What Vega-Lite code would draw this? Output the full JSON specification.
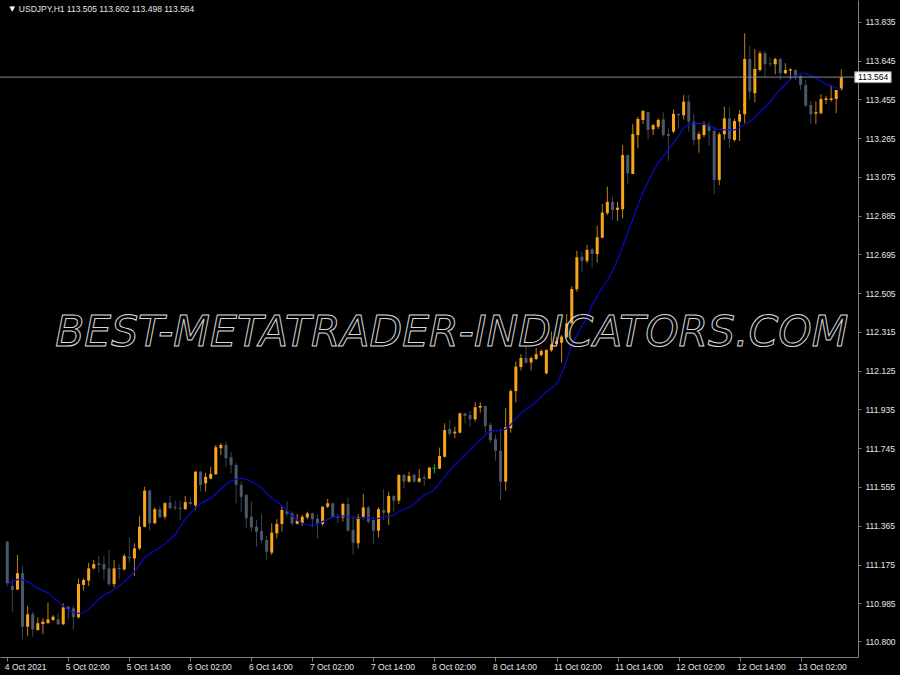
{
"$schema": "https://vega.github.io/schema/vega-lite/v6.json",
"width": 858, "height": 657, "padding": {"left": 0, "top": 0, "right": 42, "bottom": 18}, "autosize": {"type": "none"},
"background": "#000000",
"config": {"view": {"stroke": null},
 "axis": {"grid": false, "domainColor": "#808080", "tickColor": "#808080", "labelColor": "#E6E6E6", "labelFont": "Liberation Sans", "labelFontSize": 8.5, "title": null}},
"data": {"values": [
{"i":0,"o":111.287,"h":111.29,"l":111.07,"c":111.083,"m":111.079},
{"i":1,"o":111.07,"h":111.099,"l":110.944,"c":111.05,"m":111.091},
{"i":2,"o":111.053,"h":111.222,"l":111.05,"c":111.132,"m":111.102},
{"i":3,"o":111.132,"h":111.168,"l":110.808,"c":110.87,"m":111.1},
{"i":4,"o":110.87,"h":110.972,"l":110.825,"c":110.931,"m":111.091},
{"i":5,"o":110.931,"h":110.944,"l":110.821,"c":110.857,"m":111.075},
{"i":6,"o":110.854,"h":110.916,"l":110.85,"c":110.887,"m":111.058},
{"i":7,"o":110.883,"h":110.911,"l":110.834,"c":110.895,"m":111.047},
{"i":8,"o":110.887,"h":110.988,"l":110.887,"c":110.906,"m":111.037},
{"i":9,"o":110.903,"h":110.927,"l":110.897,"c":110.919,"m":111.014},
{"i":10,"o":110.906,"h":110.936,"l":110.878,"c":110.882,"m":110.993},
{"i":11,"o":110.882,"h":110.985,"l":110.878,"c":110.965,"m":110.972},
{"i":12,"o":110.968,"h":110.972,"l":110.906,"c":110.955,"m":110.952},
{"i":13,"o":110.96,"h":110.972,"l":110.854,"c":110.916,"m":110.939},
{"i":14,"o":110.916,"h":111.107,"l":110.911,"c":111.079,"m":110.936},
{"i":15,"o":111.075,"h":111.107,"l":111.047,"c":111.099,"m":110.939},
{"i":16,"o":111.096,"h":111.184,"l":111.07,"c":111.156,"m":110.955},
{"i":17,"o":111.156,"h":111.197,"l":111.151,"c":111.177,"m":110.981},
{"i":18,"o":111.181,"h":111.217,"l":111.135,"c":111.173,"m":111.006},
{"i":19,"o":111.177,"h":111.217,"l":111.099,"c":111.151,"m":111.024},
{"i":20,"o":111.156,"h":111.246,"l":111.07,"c":111.079,"m":111.037},
{"i":21,"o":111.079,"h":111.197,"l":111.063,"c":111.156,"m":111.053},
{"i":22,"o":111.158,"h":111.177,"l":111.102,"c":111.153,"m":111.07},
{"i":23,"o":111.151,"h":111.226,"l":111.145,"c":111.217,"m":111.091},
{"i":24,"o":111.213,"h":111.308,"l":111.184,"c":111.205,"m":111.115},
{"i":25,"o":111.205,"h":111.279,"l":111.119,"c":111.254,"m":111.14},
{"i":26,"o":111.254,"h":111.413,"l":111.246,"c":111.36,"m":111.173},
{"i":27,"o":111.36,"h":111.556,"l":111.357,"c":111.537,"m":111.208},
{"i":28,"o":111.537,"h":111.544,"l":111.341,"c":111.377,"m":111.226},
{"i":29,"o":111.377,"h":111.455,"l":111.374,"c":111.446,"m":111.243},
{"i":30,"o":111.446,"h":111.462,"l":111.403,"c":111.406,"m":111.259},
{"i":31,"o":111.409,"h":111.48,"l":111.397,"c":111.476,"m":111.276},
{"i":32,"o":111.478,"h":111.512,"l":111.446,"c":111.451,"m":111.299},
{"i":33,"o":111.458,"h":111.488,"l":111.442,"c":111.451,"m":111.32},
{"i":34,"o":111.453,"h":111.488,"l":111.393,"c":111.447,"m":111.36},
{"i":35,"o":111.446,"h":111.511,"l":111.444,"c":111.481,"m":111.397},
{"i":36,"o":111.481,"h":111.504,"l":111.467,"c":111.472,"m":111.426},
{"i":37,"o":111.465,"h":111.633,"l":111.442,"c":111.63,"m":111.451},
{"i":38,"o":111.63,"h":111.633,"l":111.532,"c":111.565,"m":111.472},
{"i":39,"o":111.573,"h":111.625,"l":111.532,"c":111.605,"m":111.488},
{"i":40,"o":111.596,"h":111.654,"l":111.593,"c":111.619,"m":111.499},
{"i":41,"o":111.617,"h":111.761,"l":111.614,"c":111.75,"m":111.522},
{"i":42,"o":111.745,"h":111.769,"l":111.712,"c":111.761,"m":111.545},
{"i":43,"o":111.761,"h":111.777,"l":111.654,"c":111.696,"m":111.568},
{"i":44,"o":111.701,"h":111.725,"l":111.622,"c":111.663,"m":111.584},
{"i":45,"o":111.663,"h":111.671,"l":111.475,"c":111.565,"m":111.593},
{"i":46,"o":111.565,"h":111.581,"l":111.434,"c":111.507,"m":111.597},
{"i":47,"o":111.516,"h":111.521,"l":111.352,"c":111.401,"m":111.593},
{"i":48,"o":111.409,"h":111.483,"l":111.336,"c":111.357,"m":111.581},
{"i":49,"o":111.36,"h":111.393,"l":111.262,"c":111.336,"m":111.57},
{"i":50,"o":111.339,"h":111.421,"l":111.282,"c":111.295,"m":111.548},
{"i":51,"o":111.295,"h":111.315,"l":111.194,"c":111.238,"m":111.524},
{"i":52,"o":111.233,"h":111.377,"l":111.222,"c":111.331,"m":111.499},
{"i":53,"o":111.328,"h":111.397,"l":111.303,"c":111.374,"m":111.483},
{"i":54,"o":111.374,"h":111.462,"l":111.336,"c":111.442,"m":111.462},
{"i":55,"o":111.439,"h":111.486,"l":111.409,"c":111.423,"m":111.439},
{"i":56,"o":111.426,"h":111.434,"l":111.364,"c":111.377,"m":111.413},
{"i":57,"o":111.374,"h":111.423,"l":111.372,"c":111.39,"m":111.393},
{"i":58,"o":111.377,"h":111.418,"l":111.364,"c":111.409,"m":111.377},
{"i":59,"o":111.406,"h":111.434,"l":111.397,"c":111.426,"m":111.369},
{"i":60,"o":111.426,"h":111.429,"l":111.357,"c":111.397,"m":111.364},
{"i":61,"o":111.4,"h":111.421,"l":111.303,"c":111.374,"m":111.374},
{"i":62,"o":111.374,"h":111.462,"l":111.364,"c":111.458,"m":111.385},
{"i":63,"o":111.458,"h":111.496,"l":111.451,"c":111.475,"m":111.396},
{"i":64,"o":111.475,"h":111.478,"l":111.406,"c":111.409,"m":111.406},
{"i":65,"o":111.409,"h":111.426,"l":111.377,"c":111.404,"m":111.413},
{"i":66,"o":111.406,"h":111.478,"l":111.385,"c":111.472,"m":111.414},
{"i":67,"o":111.472,"h":111.503,"l":111.336,"c":111.341,"m":111.409},
{"i":68,"o":111.344,"h":111.413,"l":111.222,"c":111.282,"m":111.404},
{"i":69,"o":111.279,"h":111.421,"l":111.254,"c":111.406,"m":111.401},
{"i":70,"o":111.406,"h":111.521,"l":111.397,"c":111.455,"m":111.406},
{"i":71,"o":111.455,"h":111.462,"l":111.377,"c":111.385,"m":111.404},
{"i":72,"o":111.393,"h":111.406,"l":111.275,"c":111.341,"m":111.4},
{"i":73,"o":111.341,"h":111.455,"l":111.308,"c":111.446,"m":111.401},
{"i":74,"o":111.442,"h":111.544,"l":111.393,"c":111.429,"m":111.409},
{"i":75,"o":111.429,"h":111.532,"l":111.369,"c":111.511,"m":111.409},
{"i":76,"o":111.511,"h":111.516,"l":111.434,"c":111.488,"m":111.418},
{"i":77,"o":111.488,"h":111.617,"l":111.472,"c":111.614,"m":111.434},
{"i":78,"o":111.614,"h":111.619,"l":111.549,"c":111.581,"m":111.446},
{"i":79,"o":111.581,"h":111.63,"l":111.576,"c":111.609,"m":111.456},
{"i":80,"o":111.614,"h":111.622,"l":111.576,"c":111.581,"m":111.472},
{"i":81,"o":111.581,"h":111.642,"l":111.576,"c":111.598,"m":111.495},
{"i":82,"o":111.602,"h":111.617,"l":111.56,"c":111.596,"m":111.516},
{"i":83,"o":111.596,"h":111.652,"l":111.593,"c":111.65,"m":111.527},
{"i":84,"o":111.647,"h":111.666,"l":111.622,"c":111.647,"m":111.544},
{"i":85,"o":111.645,"h":111.748,"l":111.642,"c":111.707,"m":111.573},
{"i":86,"o":111.703,"h":111.867,"l":111.7,"c":111.834,"m":111.605},
{"i":87,"o":111.839,"h":111.883,"l":111.805,"c":111.815,"m":111.635},
{"i":88,"o":111.818,"h":111.851,"l":111.794,"c":111.826,"m":111.663},
{"i":89,"o":111.821,"h":111.919,"l":111.818,"c":111.916,"m":111.687},
{"i":90,"o":111.916,"h":111.919,"l":111.867,"c":111.903,"m":111.712},
{"i":91,"o":111.908,"h":111.929,"l":111.851,"c":111.887,"m":111.736},
{"i":92,"o":111.887,"h":111.97,"l":111.875,"c":111.946,"m":111.761},
{"i":93,"o":111.944,"h":111.97,"l":111.919,"c":111.952,"m":111.785},
{"i":94,"o":111.952,"h":111.955,"l":111.818,"c":111.854,"m":111.81},
{"i":95,"o":111.859,"h":111.87,"l":111.772,"c":111.785,"m":111.826},
{"i":96,"o":111.789,"h":111.81,"l":111.684,"c":111.733,"m":111.831},
{"i":97,"o":111.733,"h":111.843,"l":111.491,"c":111.581,"m":111.831},
{"i":98,"o":111.581,"h":111.941,"l":111.537,"c":111.848,"m":111.838},
{"i":99,"o":111.843,"h":112.034,"l":111.821,"c":112.025,"m":111.859},
{"i":100,"o":112.025,"h":112.17,"l":111.969,"c":112.145,"m":111.892},
{"i":101,"o":112.143,"h":112.206,"l":112.126,"c":112.187,"m":111.916},
{"i":102,"o":112.187,"h":112.241,"l":112.16,"c":112.163,"m":111.936},
{"i":103,"o":112.165,"h":112.195,"l":112.126,"c":112.187,"m":111.952},
{"i":104,"o":112.182,"h":112.236,"l":112.178,"c":112.206,"m":111.973},
{"i":105,"o":112.201,"h":112.229,"l":112.195,"c":112.222,"m":111.998},
{"i":106,"o":112.112,"h":112.229,"l":112.106,"c":112.227,"m":112.022},
{"i":107,"o":112.225,"h":112.316,"l":112.217,"c":112.254,"m":112.04},
{"i":108,"o":112.256,"h":112.292,"l":112.246,"c":112.27,"m":112.06},
{"i":109,"o":112.262,"h":112.3,"l":112.165,"c":112.292,"m":112.109},
{"i":110,"o":112.289,"h":112.403,"l":112.284,"c":112.357,"m":112.177},
{"i":111,"o":112.357,"h":112.54,"l":112.355,"c":112.525,"m":112.251},
{"i":112,"o":112.524,"h":112.713,"l":112.512,"c":112.681,"m":112.3},
{"i":113,"o":112.684,"h":112.708,"l":112.61,"c":112.664,"m":112.344},
{"i":114,"o":112.664,"h":112.742,"l":112.652,"c":112.717,"m":112.387},
{"i":115,"o":112.72,"h":112.729,"l":112.632,"c":112.697,"m":112.447},
{"i":116,"o":112.697,"h":112.834,"l":112.655,"c":112.779,"m":112.488},
{"i":117,"o":112.777,"h":112.942,"l":112.774,"c":112.9,"m":112.534},
{"i":118,"o":112.897,"h":113.027,"l":112.888,"c":112.953,"m":112.567},
{"i":119,"o":112.953,"h":112.978,"l":112.864,"c":112.913,"m":112.615},
{"i":120,"o":112.913,"h":112.953,"l":112.86,"c":112.924,"m":112.668},
{"i":121,"o":112.916,"h":113.231,"l":112.872,"c":113.182,"m":112.733},
{"i":122,"o":113.182,"h":113.185,"l":113.04,"c":113.093,"m":112.802},
{"i":123,"o":113.089,"h":113.334,"l":113.089,"c":113.285,"m":112.867},
{"i":124,"o":113.28,"h":113.37,"l":113.215,"c":113.359,"m":112.937},
{"i":125,"o":113.354,"h":113.403,"l":113.334,"c":113.398,"m":112.998},
{"i":126,"o":113.392,"h":113.395,"l":113.261,"c":113.305,"m":113.051},
{"i":127,"o":113.308,"h":113.334,"l":113.28,"c":113.329,"m":113.101},
{"i":128,"o":113.321,"h":113.362,"l":113.31,"c":113.354,"m":113.145},
{"i":129,"o":113.357,"h":113.39,"l":113.272,"c":113.28,"m":113.177},
{"i":130,"o":113.285,"h":113.313,"l":113.154,"c":113.276,"m":113.207},
{"i":131,"o":113.297,"h":113.406,"l":113.289,"c":113.384,"m":113.24},
{"i":132,"o":113.384,"h":113.387,"l":113.313,"c":113.377,"m":113.276},
{"i":133,"o":113.377,"h":113.476,"l":113.357,"c":113.444,"m":113.315},
{"i":134,"o":113.444,"h":113.476,"l":113.297,"c":113.346,"m":113.333},
{"i":135,"o":113.346,"h":113.384,"l":113.231,"c":113.256,"m":113.337},
{"i":136,"o":113.259,"h":113.297,"l":113.194,"c":113.285,"m":113.337},
{"i":137,"o":113.28,"h":113.346,"l":113.269,"c":113.329,"m":113.336},
{"i":138,"o":113.329,"h":113.346,"l":113.228,"c":113.3,"m":113.326},
{"i":139,"o":113.3,"h":113.321,"l":112.99,"c":113.06,"m":113.313},
{"i":140,"o":113.06,"h":113.294,"l":113.035,"c":113.284,"m":113.306},
{"i":141,"o":113.284,"h":113.419,"l":113.256,"c":113.362,"m":113.305},
{"i":142,"o":113.362,"h":113.419,"l":113.218,"c":113.261,"m":113.305},
{"i":143,"o":113.256,"h":113.359,"l":113.248,"c":113.349,"m":113.305},
{"i":144,"o":113.346,"h":113.403,"l":113.251,"c":113.382,"m":113.316},
{"i":145,"o":113.382,"h":113.779,"l":113.338,"c":113.653,"m":113.333},
{"i":146,"o":113.653,"h":113.718,"l":113.452,"c":113.493,"m":113.346},
{"i":147,"o":113.485,"h":113.702,"l":113.441,"c":113.604,"m":113.365},
{"i":148,"o":113.599,"h":113.692,"l":113.591,"c":113.681,"m":113.395},
{"i":149,"o":113.681,"h":113.692,"l":113.561,"c":113.627,"m":113.414},
{"i":150,"o":113.632,"h":113.66,"l":113.615,"c":113.627,"m":113.441},
{"i":151,"o":113.627,"h":113.66,"l":113.578,"c":113.653,"m":113.476},
{"i":152,"o":113.653,"h":113.66,"l":113.55,"c":113.583,"m":113.506},
{"i":153,"o":113.583,"h":113.632,"l":113.578,"c":113.599,"m":113.53},
{"i":154,"o":113.596,"h":113.607,"l":113.55,"c":113.602,"m":113.553},
{"i":155,"o":113.599,"h":113.604,"l":113.55,"c":113.566,"m":113.571},
{"i":156,"o":113.571,"h":113.575,"l":113.501,"c":113.525,"m":113.583},
{"i":157,"o":113.525,"h":113.55,"l":113.419,"c":113.424,"m":113.583},
{"i":158,"o":113.427,"h":113.447,"l":113.333,"c":113.382,"m":113.571},
{"i":159,"o":113.385,"h":113.444,"l":113.333,"c":113.392,"m":113.558},
{"i":160,"o":113.387,"h":113.48,"l":113.382,"c":113.457,"m":113.545},
{"i":161,"o":113.452,"h":113.473,"l":113.431,"c":113.46,"m":113.529},
{"i":162,"o":113.452,"h":113.525,"l":113.444,"c":113.46,"m":113.521},
{"i":163,"o":113.457,"h":113.501,"l":113.387,"c":113.501,"m":113.512},
{"i":164,"o":113.505,"h":113.602,"l":113.498,"c":113.564,"m":113.506}
]},
"layer": [
{"mark": {"type": "rule", "strokeWidth": 1},
 "encoding": {
  "x": {"field": "i", "type": "quantitative", "scale": {"domain": [-0.45, 166.3], "nice": false, "zero": false},
   "axis": {"orient": "bottom", "values": [0,12,24,36,48,60,72,84,96,108,120,132,144,156], "labelExpr": "['4 Oct 2021','5 Oct 02:00','5 Oct 14:00','6 Oct 02:00','6 Oct 14:00','7 Oct 02:00','7 Oct 14:00','8 Oct 02:00','8 Oct 14:00','11 Oct 02:00','11 Oct 14:00','12 Oct 02:00','12 Oct 14:00','13 Oct 02:00'][round(datum.value/12)]", "labelAlign": "left", "labelBaseline": "top", "labelPadding": 1, "labelOffset": -3, "tickSize": 4, "labelOverlap": false, "labelFlush": false}, "title": null},
  "y": {"field": "h", "type": "quantitative", "scale": {"domain": [110.7216, 113.942], "nice": false, "zero": false},
   "axis": {"orient": "right", "values": [110.8,110.985,111.175,111.365,111.555,111.745,111.935,112.125,112.315,112.505,112.695,112.885,113.075,113.265,113.455,113.645,113.835], "format": ".3f", "labelAlign": "left", "labelBaseline": "middle", "tickSize": 3, "labelPadding": 4, "labelOverlap": false, "labelFlush": false}, "title": null},
  "y2": {"field": "l"},
  "color": {"condition": [{"test": "datum.c == datum.o", "value": "#00C000"}, {"test": "datum.c > datum.o", "value": "#C07E16"}], "value": "#3A4552"}
 }},
{"mark": {"type": "bar", "width": 3},
 "encoding": {
  "x": {"field": "i", "type": "quantitative", "title": null},
  "y": {"field": "o", "type": "quantitative", "title": null},
  "y2": {"field": "c"},
  "color": {"condition": {"test": "datum.c > datum.o", "value": "#F8A51B"}, "value": "#4A5868"}
 }},
{"transform": [{"filter": "datum.c == datum.o"}],
 "mark": {"type": "tick", "orient": "horizontal", "size": 5, "thickness": 1, "color": "#00C000"},
 "encoding": {
  "x": {"field": "i", "type": "quantitative", "title": null},
  "y": {"field": "c", "type": "quantitative", "title": null}
 }},
{"mark": {"type": "line", "color": "#0A0AD0", "strokeWidth": 1.2},
 "encoding": {
  "x": {"field": "i", "type": "quantitative", "title": null},
  "y": {"field": "m", "type": "quantitative", "title": null}
 }},
{"data": {"values": [{"p": 113.564}]},
 "mark": {"type": "rule", "color": "#7D8A96", "strokeWidth": 1},
 "encoding": {"y": {"field": "p", "type": "quantitative", "title": null}}},
{"data": {"values": [{"i": 87.4, "p": 112.31, "t": "BEST-METATRADER-INDICATORS.COM"}]},
 "mark": {"type": "text", "font": "DejaVu Sans", "fontStyle": "italic", "fontSize": 42.5, "align": "center", "baseline": "middle", "fillOpacity": 0, "stroke": "#D8D8D8", "strokeWidth": 1},
 "encoding": {
  "x": {"field": "i", "type": "quantitative", "title": null},
  "y": {"field": "p", "type": "quantitative", "title": null},
  "text": {"field": "t"}
 }},
{"data": {"values": [{"i": 2.27, "p": 113.898, "t": "USDJPY,H1  113.505 113.602 113.498 113.564"}]},
 "mark": {"type": "text", "font": "Liberation Sans", "fontSize": 8.5, "align": "left", "baseline": "middle", "color": "#E6E6E6"},
 "encoding": {
  "x": {"field": "i", "type": "quantitative", "title": null},
  "y": {"field": "p", "type": "quantitative", "title": null},
  "text": {"field": "t"}
 }},
{"data": {"values": [{"i": 0.95, "p": 113.9, "t": "▼"}]},
 "mark": {"type": "text", "font": "DejaVu Sans", "fontSize": 7, "align": "center", "baseline": "middle", "color": "#FFFFFF"},
 "encoding": {
  "x": {"field": "i", "type": "quantitative", "title": null},
  "y": {"field": "p", "type": "quantitative", "title": null},
  "text": {"field": "t"}
 }},
{"data": {"values": [{"i": 166.65, "i2": 173.8, "p": 113.59, "p2": 113.537}]},
 "mark": {"type": "rect", "color": "#FFFFFF", "stroke": "#9A9A9A", "strokeWidth": 1},
 "encoding": {
  "x": {"field": "i", "type": "quantitative", "title": null},
  "x2": {"field": "i2"},
  "y": {"field": "p", "type": "quantitative", "title": null},
  "y2": {"field": "p2"}
 }},
{"data": {"values": [{"i": 167.3, "p": 113.564, "t": "113.564"}]},
 "mark": {"type": "text", "font": "Liberation Sans", "fontSize": 8.5, "align": "left", "baseline": "middle", "color": "#000000"},
 "encoding": {
  "x": {"field": "i", "type": "quantitative", "title": null},
  "y": {"field": "p", "type": "quantitative", "title": null},
  "text": {"field": "t"}
 }}
]
}
